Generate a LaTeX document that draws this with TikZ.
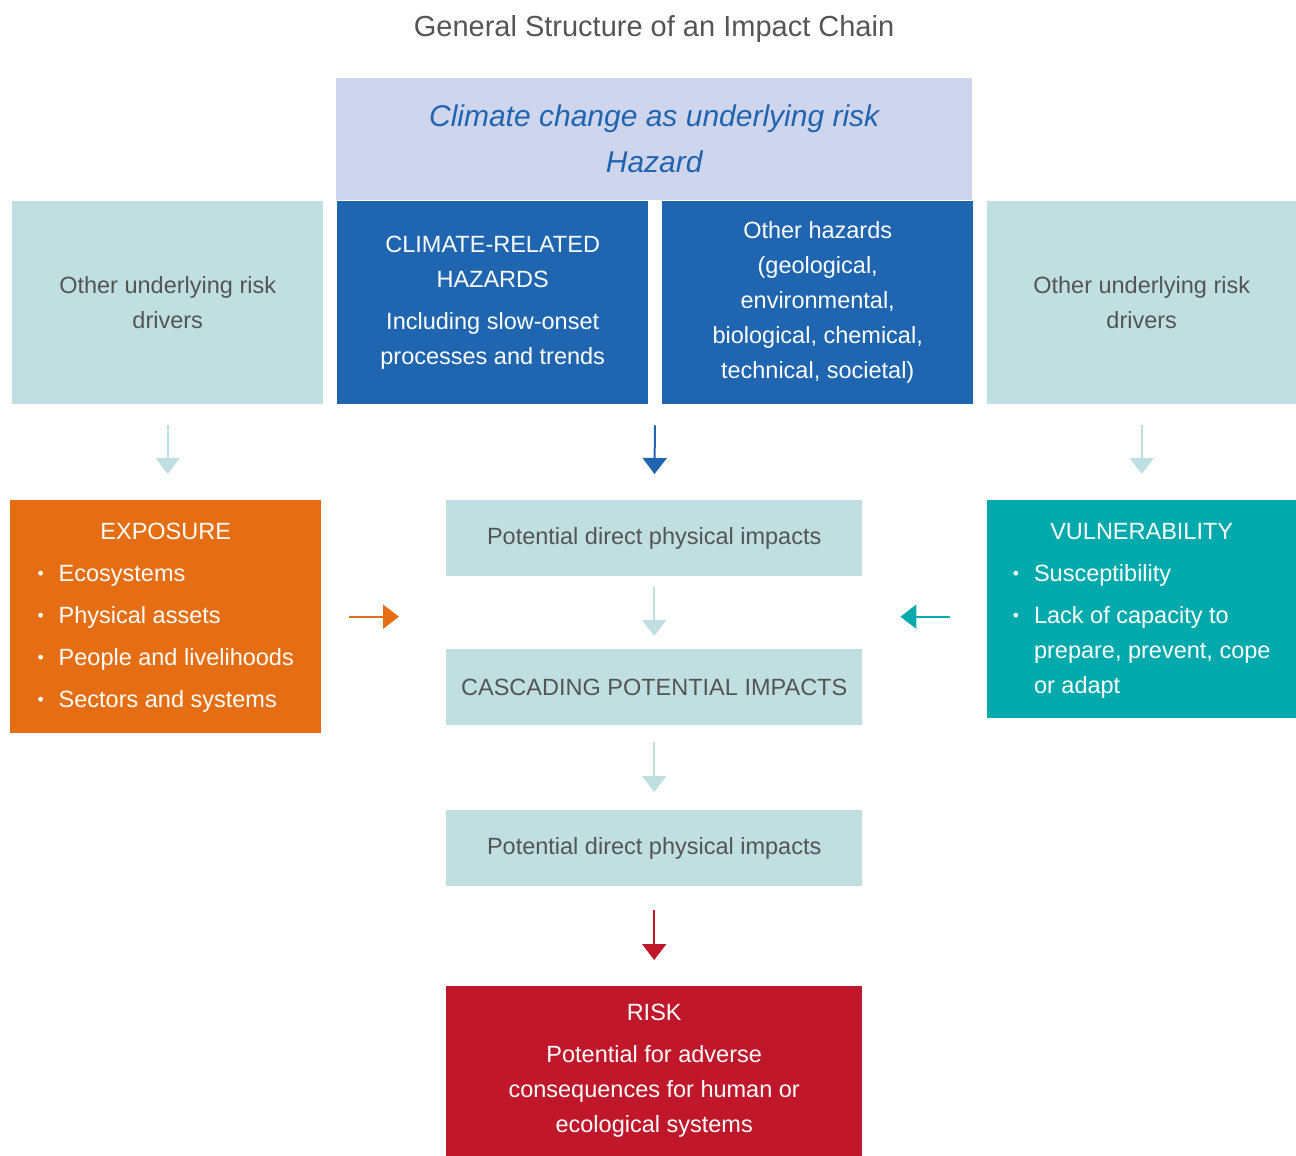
\documentclass[tikz,border=0pt]{standalone}
\usepackage{fontspec}
\setmainfont{Liberation Sans}
\usepackage{tikz}
\usetikzlibrary{arrows.meta,calc}

\definecolor{lav}{HTML}{D0D5EE}
\definecolor{lteal}{HTML}{BFDFE0}
\definecolor{hzblue}{HTML}{1F65AF}
\definecolor{expor}{HTML}{E56E14}
\definecolor{vteal}{HTML}{00A9AB}
\definecolor{riskred}{HTML}{C0172A}
\definecolor{txtgray}{HTML}{555555}

\newcommand{\bul}{\raisebox{2pt}{\scalebox{0.75}{•}}}

\tikzset{
    panel/.style={anchor=north west, inner sep=0pt, align=center,
        font=\fontsize{23.5}{35}\selectfont},
    pale/.style={panel, fill=lteal, text=txtgray},
    flow/.style={line width=2pt, -{Triangle[width=24pt,length=16pt]}}
}

\begin{document}
\begin{tikzpicture}[x=1pt, y=-1pt]
        \useasboundingbox (0,0) rectangle (1296,1156);

        % Title
        \node[text=txtgray, font=\fontsize{29}{32}\selectfont] (title) at (654,29) {General Structure of an Impact Chain};

        % Hazard row
        \node[panel, fill=lav, text=hzblue, minimum width=636, minimum height=122,
              font=\fontsize{30}{46}\itshape] (hazard) at (336,78) {Climate change as underlying risk\\Hazard};
        \node[pale, minimum width=311, minimum height=203] (ldrv) at (12,201) {Other underlying risk\\drivers};
        \node[panel, fill=hzblue, text=white, minimum width=311, minimum height=203] (crh) at (337,201)
            {CLIMATE-RELATED\\HAZARDS\\[7pt]Including slow-onset\\processes and trends};
        \node[panel, fill=hzblue, text=white, minimum width=311, minimum height=203] (oth) at (662,201)
            {Other hazards\\(geological,\\environmental,\\biological, chemical,\\technical, societal)};
        \node[pale, minimum width=309, minimum height=203] (rdrv) at (987,201) {Other underlying risk\\drivers};

        % Exposure and vulnerability
        \node[panel, fill=expor, text=white, minimum width=311, minimum height=233] (expo) at (10,500)
            {\begin{tabular}{@{}l@{\hspace{15pt}}l@{}}
                \multicolumn{2}{c}{EXPOSURE}\\[7pt]
                \bul & Ecosystems\\[7pt]
                \bul & Physical assets\\[7pt]
                \bul & People and livelihoods\\[7pt]
                \bul & Sectors and systems
            \end{tabular}};
        \node[panel, fill=vteal, text=white, minimum width=309, minimum height=218] (vuln) at (987,500)
            {\begin{tabular}{@{}l@{\hspace{15pt}}l@{}}
                \multicolumn{2}{c}{VULNERABILITY}\\[7pt]
                \bul & Susceptibility\\[7pt]
                \bul & Lack of capacity to\\
                     & prepare, prevent, cope\\
                     & or adapt
            \end{tabular}};

        % Impact chain
        \node[pale, minimum width=416, minimum height=76] (direct) at (446,500) {Potential direct physical impacts};
        \node[pale, minimum width=416, minimum height=76] (cascade) at (446,649) {CASCADING POTENTIAL IMPACTS};
        \node[pale, minimum width=416, minimum height=76] (direct2) at (446,810) {Potential direct physical impacts};
        \node[panel, fill=riskred, text=white, minimum width=416, minimum height=170] (risk) at (446,986)
            {RISK\\[7pt]Potential for adverse\\consequences for human or\\ecological systems};

        % Arrows
        \coordinate (hzmid) at ($(crh.south east)!0.5!(oth.south west)$);
        \draw[flow, lteal, shorten <=21pt, shorten >=26pt] (ldrv.south) -- (ldrv.south |- expo.north);
        \draw[flow, lteal, shorten <=21pt, shorten >=26pt] (rdrv.south) -- (rdrv.south |- vuln.north);
        \draw[flow, hzblue, shorten <=21pt, shorten >=26pt] (hzmid) -- (direct.north);
        \draw[flow, lteal, shorten <=11pt, shorten >=13pt] (direct) -- (cascade);
        \draw[flow, lteal, shorten <=17pt, shorten >=18pt] (cascade) -- (direct2);
        \draw[flow, riskred, shorten <=24pt, shorten >=26pt] (direct2) -- (risk);
        \draw[flow, expor, shorten <=28pt, shorten >=47pt] (expo.east) -- (direct.west |- expo.east);
        \draw[flow, vteal, shorten <=37pt, shorten >=38pt] (vuln.west |- expo.east) -- (direct.east |- expo.east);

\end{tikzpicture}
\end{document}
